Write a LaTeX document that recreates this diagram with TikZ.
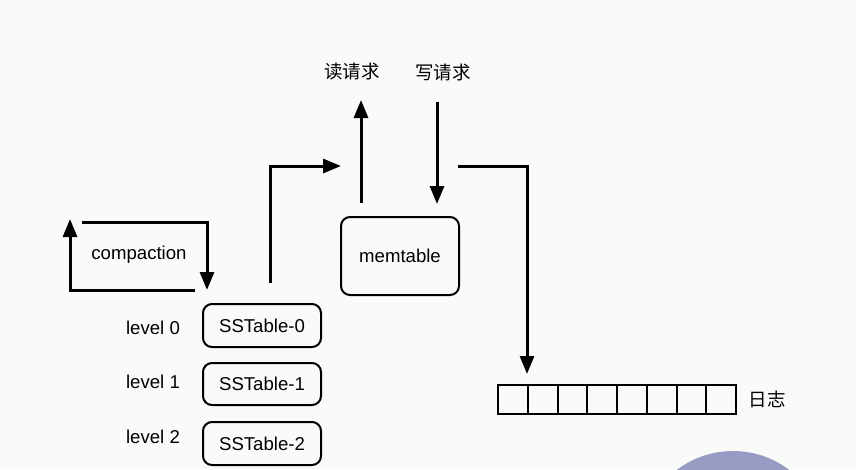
\documentclass[tikz,border=0pt]{standalone}
\usepackage{fontspec}
\setmainfont{Liberation Sans}
\newfontfamily\cjk{Noto Sans CJK SC}
\usetikzlibrary{arrows.meta}
\definecolor{bgc}{RGB}{249,251,249}
\definecolor{purp}{RGB}{152,155,195}
\begin{document}
\begin{tikzpicture}[x=1pt,y=-1pt,
  conn/.style={line width=3pt, -{Triangle[length=18pt,width=14pt]}},
  rbox/.style={draw, line width=2pt, rounded corners=9pt, inner sep=0pt, minimum width=118pt},
  lbl/.style={font=\fontsize{18.6}{20}\selectfont},
  zh/.style={font=\cjk\fontsize{18.5}{20}\selectfont},
  cell/.style={draw, line width=2pt, minimum width=29.75pt, minimum height=29pt, inner sep=0pt}]
\useasboundingbox (0,0) rectangle (856,469);
\fill[bgc] (0,0) rectangle (856,469);
\begin{scope}
\clip (0,0) rectangle (856,469);
\fill[purp] (733,544) circle (93);
\end{scope}

% SSTables and levels
\node[rbox, lbl, minimum height=43pt] (s0) at (262,325.5) {SSTable-0};
\node[rbox, lbl, minimum height=42pt] (s1) at (262,384) {SSTable-1};
\node[rbox, lbl, minimum height=43pt] (s2) at (262,443.5) {SSTable-2};
\node[lbl] (l0) at (153,328) {level 0};
\node[lbl] (l1) at (153,382) {level 1};
\node[lbl] (l2) at (153,437) {level 2};

% memtable
\node[rbox, lbl, minimum height=78pt] (mem) at (400,256) {memtable};

% compaction loop
\node[lbl] (comp) at (139,255) {compaction};
\coordinate (cb1) at (195,290);
\coordinate (cb2) at (70,219);
\coordinate (ct1) at (82,222);
\coordinate (ct2) at (207,290);
\draw[conn] (cb1) -| (cb2);
\draw[conn] (ct1) -| (ct2);

% SSTable -> up
\coordinate (a1) at (270,283);
\coordinate (a2) at (341,166);
\draw[conn] (a1) |- (a2);

% read / write
\node[zh] (rd) at (352,72) {读请求};
\node[zh] (wr) at (443,72) {写请求};
\coordinate (r1) at (361,203);
\coordinate (r2) at (361,100);
\coordinate (w1) at (437,102);
\coordinate (w2) at (437,204);
\draw[conn] (r1) -- (r2);
\draw[conn] (w1) -- (w2);

% log
\foreach \i in {0,...,7}{
  \node[cell] (c\i) at ({498+29.75*(\i+0.5)},399.5) {};
}
\node[zh] (log) at (767,399) {日志};
\coordinate (g1) at (458,166);
\coordinate (g2) at (527,374);
\draw[conn] (g1) -| (g2);
\end{tikzpicture}
\end{document}
